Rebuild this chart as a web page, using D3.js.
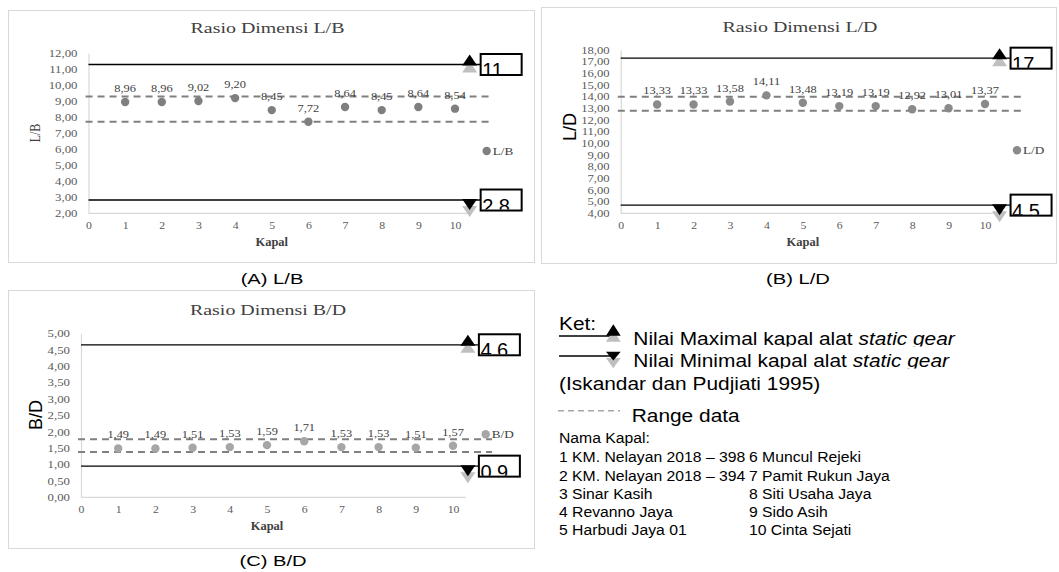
<!DOCTYPE html>
<html><head><meta charset="utf-8">
<script src="https://cdn.jsdelivr.net/npm/d3@7"></script>
<style>body{margin:0;background:#fff} svg{display:block}</style>
</head><body><svg id="c" width="1059" height="572"></svg>
<script>
// ---------------- DATA ----------------
const kapal = [1,2,3,4,5,6,7,8,9,10];
const xTicks = [0,1,2,3,4,5,6,7,8,9,10];
const lbValues = [8.96,8.96,9.02,9.20,8.45,7.72,8.64,8.45,8.64,8.54];
const ldValues = [13.33,13.33,13.58,14.11,13.48,13.19,13.19,12.92,13.01,13.37];
const bdValues = [1.49,1.49,1.51,1.53,1.59,1.71,1.53,1.53,1.51,1.57];
const maxValues = [11.3, 17.3, 4.65];
const minValues = [2.83, 4.7, 0.95];
const maxLabels = ["11","17","4.6"];
const minLabels = ["2.8","4.5","0.9"];
const rangeUpper = [9.3, 14.0, 1.77];
const rangeLower = [7.72, 12.8, 1.38];
const yTicksLB = [2,3,4,5,6,7,8,9,10,11,12];
const yTicksLD = [4,5,6,7,8,9,10,11,12,13,14,15,16,17,18];
const yTicksBD = [0,0.5,1,1.5,2,2.5,3,3.5,4,4.5,5];
const titles = ["Rasio Dimensi L/B","Rasio Dimensi L/D","Rasio Dimensi B/D"];
const seriesNames = ["L/B","L/D","B/D"];
const captions = ["(A) L/B","(B) L/D","(C) B/D"];
const kapalNames = ["KM. Nelayan 2018 \u2013 398","KM. Nelayan 2018 \u2013 394","Sinar Kasih","Revanno Jaya","Harbudi Jaya 01",
  "Muncul Rejeki","Pamit Rukun Jaya","Siti Usaha Jaya","Sido Asih","Cinta Sejati"];

// ---------------- LAYOUT ----------------
const SERIF = "'Liberation Serif','Times New Roman',serif";
const SANS = "'Liberation Sans',Arial,sans-serif";
const svg = d3.select("#c");
const fmt = d3.formatLocale({decimal:",",thousands:".",grouping:[3],currency:["",""]}).format(".2f");

function stext(g, str, x, y, o) {
  return g.append("text")
    .attr("transform", `translate(${x},${y})` + (o.rot ? ` rotate(${o.rot})` : "") + ` scale(${o.sx||1},${o.sy||1})`)
    .attr("text-anchor", o.anchor || "start")
    .attr("font-family", o.family || SERIF)
    .attr("font-size", o.size)
    .attr("font-weight", o.weight || "normal")
    .attr("fill", o.fill || "#000")
    .text(str);
}

const panels = [
  {values: lbValues, yDomain:[2,12], yTicks: yTicksLB, x0:88.5, x10:455, yTop:53.3, yBot:213.3,
   box:[8,10,534,262], titlePos:[267.5,33], yTitlePos:[40,133], yTitleSans:false, tickSize:10.5, tickSx:1.22,
   legPos:[486.7,151], capPos:[272,284], color:"#7f7f7f"},
  {values: ldValues, yDomain:[4,18], yTicks: yTicksLD, x0:620.7, x10:985, yTop:50, yBot:213.3,
   box:[541,7,1056,263], titlePos:[800,31.7], yTitlePos:[576,127], yTitleSans:true, tickSize:9.6, tickSx:1.32,
   legPos:[1017,150.3], capPos:[798,284], color:"#8a8a8a"},
  {values: bdValues, yDomain:[0,5], yTicks: yTicksBD, x0:81, x10:453, yTop:333.3, yBot:497.3,
   box:[8,290,534,548], titlePos:[268,315], yTitlePos:[41.7,415], yTitleSans:true, tickSize:10.5, tickSx:1.22,
   legPos:[485.7,434.3], capPos:[273,566], color:"#a6a6a6"}
];

panels.forEach((p, i) => {
  const g = svg.append("g");
  g.append("rect").attr("x", p.box[0]+0.5).attr("y", p.box[1]+0.5)
    .attr("width", p.box[2]-p.box[0]).attr("height", p.box[3]-p.box[1])
    .attr("fill","none").attr("stroke","#d9d9d9").attr("stroke-width",1);

  const x = d3.scaleLinear().domain([0,10]).range([p.x0, p.x10]);
  const y = d3.scaleLinear().domain(p.yDomain).range([p.yBot, p.yTop]);

  // title
  stext(g, titles[i], p.titlePos[0], p.titlePos[1], {size:15, sx:1.33, anchor:"middle", fill:"#404040"});

  // y axis
  const ya = g.append("g").attr("transform", `translate(${p.x0},0)`)
    .call(d3.axisLeft(y).tickValues(p.yTicks).tickFormat(fmt).tickSize(0).tickSizeOuter(0).tickPadding(11));
  ya.select(".domain").attr("stroke","#d9d9d9").attr("stroke-width",1.2);
  ya.selectAll("text").attr("font-family", SERIF).attr("font-size", p.tickSize).attr("fill","#595959")
    .attr("x", -11 / p.tickSx).attr("transform", `scale(${p.tickSx},1)`);

  // x axis
  const xa = g.append("g").attr("transform", `translate(0,${y(p.yDomain[0])})`)
    .call(d3.axisBottom(x).tickValues(xTicks).tickFormat(d3.format("d")).tickSize(0).tickPadding(8));
  xa.select(".domain").remove();
  xa.selectAll("text").attr("font-family", SERIF).attr("font-size", 10.5).attr("fill","#595959")
    .attr("transform","scale(1.12,1)");
  g.append("line").attr("x1", x(0)).attr("x2", x(10.35))
    .attr("y1", y(p.yDomain[0])).attr("y2", y(p.yDomain[0]))
    .attr("stroke","#d9d9d9").attr("stroke-width",1.2);

  // axis titles
  stext(g, "Kapal", x(5), y(p.yDomain[0]) + 32.5, {size:12.5, weight:"bold", anchor:"middle", fill:"#404040"});
  if (p.yTitleSans) {
    stext(g, seriesNames[i], p.yTitlePos[0], p.yTitlePos[1], {size:18, family:SANS, rot:-90, anchor:"middle", fill:"#000"});
  } else {
    stext(g, seriesNames[i], p.yTitlePos[0], p.yTitlePos[1], {size:12, rot:-90, sy:1.3, anchor:"middle", fill:"#404040"});
  }

  // range (dashed) lines
  [rangeUpper[i], rangeLower[i]].forEach(v => {
    g.append("line").attr("x1", x(-0.08)).attr("x2", x(11.05)).attr("y1", y(v)).attr("y2", y(v))
      .attr("stroke","#808080").attr("stroke-width",2).attr("stroke-dasharray","7,5");
  });

  // max / min lines
  const tx = x(10.4);
  const bx = tx + 11;
  [maxValues[i], minValues[i]].forEach(v => {
    g.append("line").attr("x1", x(0)).attr("x2", bx).attr("y1", y(v)).attr("y2", y(v))
      .attr("stroke","#000").attr("stroke-width",1.3);
  });

  // points
  g.selectAll("circle.pt").data(p.values).join("circle").attr("class","pt")
    .attr("cx", (d,j) => x(kapal[j])).attr("cy", d => y(d)).attr("r", 4.2).attr("fill", p.color);
  g.selectAll("text.lbl").data(p.values).join("text").attr("class","lbl")
    .attr("transform", (d,j) => `translate(${x(kapal[j])},${y(d) - 10}) scale(1.18,1)`)
    .attr("text-anchor","middle").attr("font-family",SERIF).attr("font-size",10.5).attr("fill","#404040")
    .text(d => fmt(d));

  // legend
  g.append("circle").attr("cx", p.legPos[0]).attr("cy", p.legPos[1]).attr("r", 4.2).attr("fill", p.color);
  stext(g, seriesNames[i], p.legPos[0] + 6, p.legPos[1] + 4, {size:11, sx:1.2, fill:"#404040"});

  // triangles
  const W = 7.5, H = 11, OFF = 7;
  const yMax = y(maxValues[i]), yMin = y(minValues[i]);
  const up = (cx, base) => `M${cx-W},${base}L${cx+W},${base}L${cx},${base-H}Z`;
  const down = (cx, top) => `M${cx-W},${top}L${cx+W},${top}L${cx},${top+H}Z`;
  g.append("path").attr("d", up(tx, yMax + 1 + OFF)).attr("fill","#bfbfbf");
  g.append("path").attr("d", up(tx, yMax + 1)).attr("fill","#000");
  g.append("path").attr("d", down(tx, yMin - 1 + OFF)).attr("fill","#bfbfbf");
  g.append("path").attr("d", down(tx, yMin - 1)).attr("fill","#000");

  // label boxes
  [[yMax, maxLabels[i], "mx"], [yMin, minLabels[i], "mn"]].forEach(([yy, lab, key]) => {
    const top = yy - 10.5;
    const id = `clip${i}${key}`;
    svg.append("clipPath").attr("id", id).append("rect")
      .attr("x", bx + 1).attr("y", top + 1).attr("width", 39).attr("height", 19);
    g.append("rect").attr("x", bx).attr("y", top).attr("width", 41).attr("height", 21)
      .attr("fill","#fff").attr("stroke","#000").attr("stroke-width",2);
    g.append("g").attr("clip-path", `url(#${id})`).append("text").attr("x", bx + 1.5).attr("y", top + 23)
      .attr("font-family", SANS).attr("font-size", 20).attr("fill","#000").text(lab);
  });

  // caption
  stext(svg, captions[i], p.capPos[0], p.capPos[1], {size:15.5, family:SANS, sx:1.3, anchor:"middle"});
});

// ---------------- KET LEGEND ----------------
const L = svg.append("g");
const lo = {size:18.5, family:SANS, sx:1.13};
stext(L, "Ket:", 559, 330, lo);
L.append("line").attr("x1",559).attr("x2",612).attr("y1",336).attr("y2",336).attr("stroke","#000").attr("stroke-width",1.3);
L.append("path").attr("d","M606,341.7L620.7,341.7L613.3,330.3Z").attr("fill","#bfbfbf");
L.append("path").attr("d","M606,335.7L620.7,335.7L613.3,324.3Z").attr("fill","#000");
L.append("line").attr("x1",559).attr("x2",612).attr("y1",356).attr("y2",356).attr("stroke","#000").attr("stroke-width",1.3);
L.append("path").attr("d","M606,358L620.7,358L613.3,368.3Z").attr("fill","#bfbfbf");
L.append("path").attr("d","M606,351.7L620.7,351.7L613.3,360.5Z").attr("fill","#000");

svg.append("clipPath").attr("id","clipK1").append("rect").attr("x",620).attr("y",320).attr("width",400).attr("height",26.5);
svg.append("clipPath").attr("id","clipK2").append("rect").attr("x",620).attr("y",347).attr("width",400).attr("height",21.5);
const t1 = stext(L.append("g").attr("clip-path","url(#clipK1)"), "", 633.3, 345, lo);
t1.append("tspan").text("Nilai Maximal kapal alat ");
t1.append("tspan").attr("font-style","italic").text("static gear");
const t2 = stext(L.append("g").attr("clip-path","url(#clipK2)"), "", 633.3, 366.7, lo);
t2.append("tspan").text("Nilai Minimal kapal alat ");
t2.append("tspan").attr("font-style","italic").text("static gear");
stext(L, "(Iskandar dan Pudjiati 1995)", 559, 390, lo);
L.append("line").attr("x1",558).attr("x2",620).attr("y1",410.7).attr("y2",410.7)
  .attr("stroke","#a6a6a6").attr("stroke-width",1.5).attr("stroke-dasharray","6,4");
stext(L, "Range data", 631.7, 421.7, lo);
const no = {size:15, family:SANS, sx:1.05};
stext(L, "Nama Kapal:", 559, 443.3, no);
const rowY = [462.3, 480.7, 499.3, 517.3, 535];
kapalNames.forEach((n, j) => {
  const col = j < 5 ? 559 : 749;
  stext(L, `${kapal[j]} ${n}`, col, rowY[j % 5], no);
});
</script></body></html>
